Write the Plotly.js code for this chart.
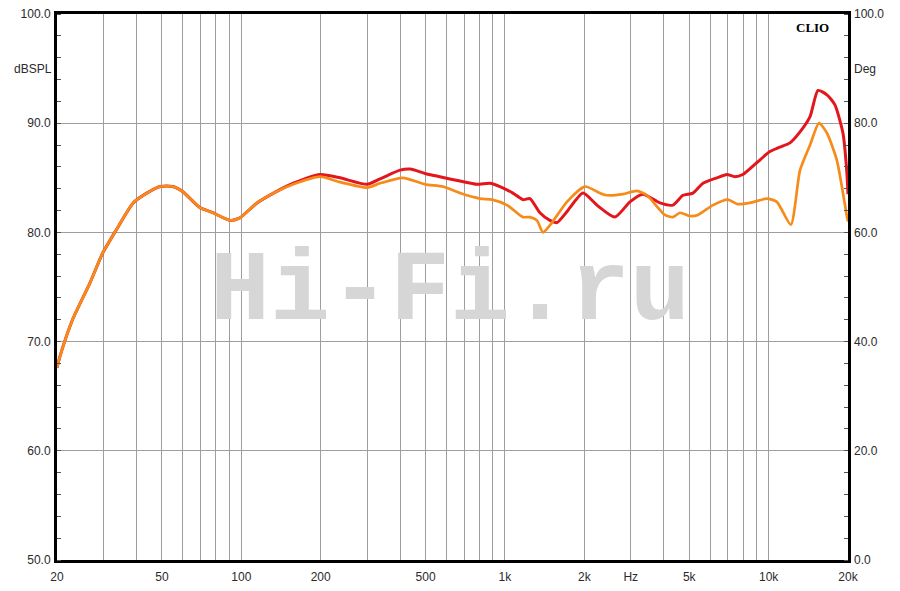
<!DOCTYPE html>
<html>
<head>
<meta charset="utf-8">
<script src="https://cdn.plot.ly/plotly-3.0.1.min.js"></script>
<style>html,body{margin:0;padding:0;background:#fff;}#chart{width:900px;height:591px;}</style>
</head>
<body>
<div id="chart"></div>
<script>
// Frequency response data (Hz, dB SPL)
const redFreq = [20, 20.5, 22.9, 26.7, 29.8, 33.5, 38.9, 43.8, 49.3, 55, 60.2, 69.4, 78, 90.6, 98.3, 114.7, 132.5, 157.5, 199, 237, 300, 336, 400, 437, 498, 566, 675, 783, 877, 957, 1072, 1170, 1244, 1357, 1481, 1575, 1718, 1976, 2232, 2612, 2978, 3336, 3868, 4336, 4732, 5164, 5636, 6368, 6948, 7448, 7980, 9032, 10112, 11030, 12052, 13154, 14356, 15392, 16636, 17826, 19136, 19800, 20000];
const redSpl  = [67.6, 68.6, 72.0, 75.4, 78.1, 80.2, 82.7, 83.6, 84.2, 84.2, 83.7, 82.3, 81.8, 81.1, 81.3, 82.7, 83.6, 84.5, 85.3, 85.0, 84.4, 84.9, 85.7, 85.8, 85.4, 85.1, 84.7, 84.4, 84.5, 84.2, 83.6, 83.0, 83.1, 81.8, 81.1, 80.9, 81.9, 83.6, 82.5, 81.4, 82.8, 83.5, 82.7, 82.5, 83.4, 83.6, 84.5, 85.0, 85.3, 85.1, 85.3, 86.4, 87.4, 87.8, 88.2, 89.2, 90.6, 93.0, 92.6, 91.7, 89.1, 85.5, 83.5];

const orangeFreq = [20, 20.5, 22.9, 26.7, 29.8, 33.5, 38.9, 43.8, 49.3, 55, 60.2, 69.4, 78, 90.6, 98.3, 114.7, 132.5, 157.5, 199, 237, 300, 336, 410, 498, 582, 675, 804, 893, 1018, 1170, 1244, 1322, 1394, 1508, 1718, 2010, 2292, 2436, 2800, 3166, 3454, 4042, 4336, 4610, 5026, 5396, 6150, 7012, 7586, 8492, 9844, 10744, 12140, 13154, 14356, 15520, 16636, 18150, 19800, 20000];
const orangeSpl  = [67.6, 68.6, 72.0, 75.4, 78.1, 80.2, 82.7, 83.6, 84.2, 84.2, 83.7, 82.3, 81.8, 81.1, 81.3, 82.7, 83.6, 84.4, 85.1, 84.6, 84.1, 84.5, 85.0, 84.4, 84.2, 83.6, 83.1, 83.0, 82.5, 81.4, 81.4, 81.1, 80.0, 80.9, 82.8, 84.2, 83.6, 83.4, 83.5, 83.8, 83.4, 81.6, 81.4, 81.8, 81.5, 81.6, 82.5, 83.0, 82.6, 82.7, 83.1, 82.8, 80.7, 85.7, 88.0, 90.0, 89.1, 86.6, 81.5, 81.0];

// Axis ticks
const xTickVals = [20, 30, 40, 50, 60, 70, 80, 90, 100, 200, 300, 400, 500, 600, 700, 800, 900, 1000, 2000, 3000, 4000, 5000, 6000, 7000, 8000, 9000, 10000, 20000];
const xTickText = ['20', '', '', '50', '', '', '', '', '100', '200', '', '', '500', '', '', '', '', '1k', '2k', 'Hz', '', '5k', '', '', '', '', '10k', '20k'];
const yTickVals = [50, 60, 70, 80, 90, 100];
const yTickText = ['50.0', '60.0', '70.0', '80.0', '90.0', '100.0'];
const y2TickVals = [0, 20, 40, 60, 80, 100];
const y2TickText = ['0.0', '20.0', '40.0', '60.0', '80.0', '100.0'];

const tickFont = {family: 'Liberation Sans, Arial, sans-serif', size: 12, color: '#2a2a2a'};
const gridColor = '#9e9e9e';

const traces = [
  {x: redFreq, y: redSpl, type: 'scatter', mode: 'lines',
   line: {color: '#e3161c', width: 3, shape: 'spline', smoothing: 0.6}, hoverinfo: 'skip'},
  {x: orangeFreq, y: orangeSpl, type: 'scatter', mode: 'lines',
   line: {color: '#f78b1a', width: 2.7, shape: 'spline', smoothing: 0.6}, hoverinfo: 'skip'},
  {x: [], y: [], yaxis: 'y2', type: 'scatter', mode: 'lines', showlegend: false}
];

const layout = {
  width: 900, height: 591,
  margin: {l: 57, r: 52, t: 14, b: 31},
  paper_bgcolor: '#fff', plot_bgcolor: '#fff',
  showlegend: false,
  xaxis: {
    type: 'log', range: [Math.log10(20), Math.log10(20000)],
    tickmode: 'array', tickvals: xTickVals, ticktext: xTickText,
    showgrid: true, gridcolor: gridColor, gridwidth: 1,
    showline: true, linecolor: '#000', linewidth: 3, mirror: true,
    ticks: '', tickfont: tickFont, ticklabelstandoff: 4, zeroline: false, fixedrange: true
  },
  yaxis: {
    range: [50, 100], tickmode: 'array', tickvals: yTickVals, ticktext: yTickText,
    showgrid: true, gridcolor: gridColor, gridwidth: 1,
    showline: true, linecolor: '#000', linewidth: 3, mirror: true,
    ticks: '', tickfont: tickFont, ticklabelstandoff: 1, zeroline: false, fixedrange: true,
    minor: {dtick: 2, ticks: 'inside', ticklen: 4, tickcolor: '#555', showgrid: false}
  },
  yaxis2: {
    overlaying: 'y', side: 'right', range: [0, 100],
    tickmode: 'array', tickvals: y2TickVals, ticktext: y2TickText,
    showgrid: false, zeroline: false, showline: false,
    ticks: '', tickfont: tickFont, ticklabelstandoff: 5, fixedrange: true,
    minor: {dtick: 4, ticks: 'inside', ticklen: 4, tickcolor: '#555', showgrid: false}
  },
  annotations: [
    {text: '<b>Hi-Fi.ru</b>', xref: 'paper', yref: 'paper', x: 0.497, y: 0.49,
     xanchor: 'center', yanchor: 'middle', showarrow: false,
     font: {family: 'Liberation Mono, DejaVu Sans Mono, monospace', size: 100, color: '#d6d6d6'}},
    {text: '<b>CLIO</b>', xref: 'paper', yref: 'paper', x: 0.9545, y: 0.976,
     xanchor: 'center', yanchor: 'middle', showarrow: false,
     font: {family: 'Liberation Serif, serif', size: 13, color: '#000'}},
    {text: 'dBSPL', xref: 'paper', yref: 'y', x: 0, y: 95, xanchor: 'right', yanchor: 'middle',
     xshift: -3, showarrow: false, font: tickFont},
    {text: 'Deg', xref: 'paper', yref: 'y', x: 1, y: 95, xanchor: 'left', yanchor: 'middle',
     xshift: 4, showarrow: false, font: tickFont}
  ]
};

Plotly.newPlot('chart', traces, layout, {staticPlot: true, displayModeBar: false});
</script>
</body>
</html>
